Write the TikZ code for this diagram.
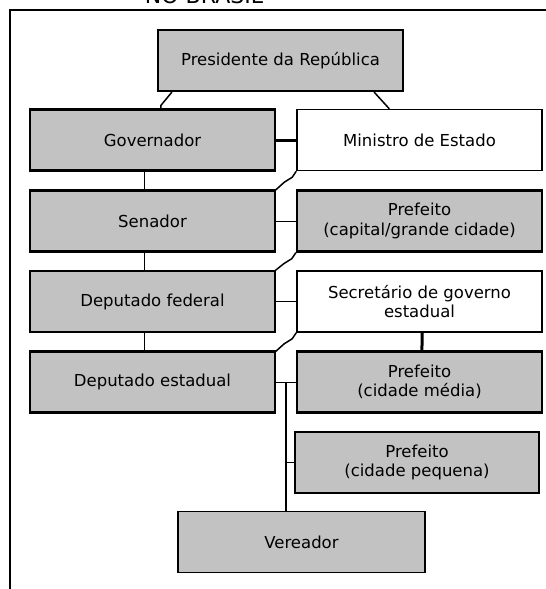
\documentclass[tikz,border=0pt]{standalone}
\usepackage{fontspec}
\setmainfont{DejaVu Sans}
\usetikzlibrary{calc}
\definecolor{boxgray}{HTML}{C2C2C2}
\tikzset{
  gbox/.style={draw=black, line width=2.2pt, fill=boxgray, rectangle, inner sep=0pt,
    minimum width=245pt, minimum height=61pt, align=center,
    font=\fontsize{16.5}{19.5}\selectfont},
  wbox/.style={gbox, fill=white, line width=1.5pt},
  thin conn/.style={draw=black, line width=1pt},
  mid conn/.style={draw=black, line width=1.5pt},
  thick conn/.style={draw=black, line width=3pt},
}
\begin{document}
\begin{tikzpicture}[x=1pt,y=-1pt]
\useasboundingbox (0,0) rectangle (546,589);
\clip (0,0) rectangle (546,589);
\fill[white] (0,0) rectangle (546,589);
% frame and title
\draw[line width=1.5pt] (560,10) -- (10,10) -- (10,600);
\node[anchor=base, inner sep=0pt, font=\fontsize{22}{24}\selectfont] (title) at (204,4) {NO BRASIL};
% boxes
\node[gbox] (pres) at (280.5,60.5) {Presidente da República};
\node[gbox] (gov) at (152.5,140) {Governador};
\node[wbox] (min) at (419.5,140) {Ministro de Estado};
\node[gbox] (sen) at (152.5,221) {Senador};
\node[gbox] (pcap) at (419.5,221) {Prefeito\\(capital/grande cidade)};
\node[gbox] (depf) at (152.5,301.5) {Deputado federal};
\node[wbox] (sec) at (419.5,301.5) {Secretário de governo\\estadual};
\node[gbox] (depe) at (152.5,382) {Deputado estadual};
\node[gbox] (pmed) at (419.5,382) {Prefeito\\(cidade média)};
\node[gbox, minimum width=244pt] (ppeq) at (417,462.5) {Prefeito\\(cidade pequena)};
\node[gbox, minimum width=247pt, line width=1.6pt] (ver) at (301.5,542) {Vereador};
% connectors
\draw[mid conn] ([xshift=15pt]pres.south west) -- ([xshift=132pt,yshift=3pt]gov.north west) -- ([xshift=132pt]gov.north west);
\draw[mid conn] ([xshift=-30pt]pres.south east) -- ([xshift=93pt]min.north west);
\draw[thick conn] (gov.east) -- (min.west);
\draw[thin conn] ([xshift=116pt]gov.south west) -- ([xshift=116pt]sen.north west);
\draw[mid conn] (min.south west) -- ++(-4,6) -- ++(-8,5) -- ++(-10,9);
\draw[thin conn] (sen.east) -- (pcap.west);
\draw[thin conn] ([xshift=116pt]sen.south west) -- ([xshift=116pt]depf.north west);
\draw[mid conn] (pcap.south west) -- ++(-4,6) -- ++(-8,5) -- ++(-10,8);
\draw[thin conn] (depf.east) -- (sec.west);
\draw[thin conn] ([xshift=116pt]depf.south west) -- ([xshift=116pt]depe.north west);
\draw[mid conn] (sec.south west) -- ++(-4,6) -- ++(-8,5) -- ++(-10,9);
\draw[thick conn] ([xshift=126pt]sec.south west) -- ([xshift=126pt]pmed.north west);
\draw[thin conn] (depe.east) -- (pmed.west);
\coordinate (j) at ($(depe.east)!0.5!(pmed.west)$);
\draw[line width=2pt] (j) -- (j |- ver.north);
\draw[thin conn] (j |- ppeq.west) -- (ppeq.west);
\end{tikzpicture}
\end{document}
